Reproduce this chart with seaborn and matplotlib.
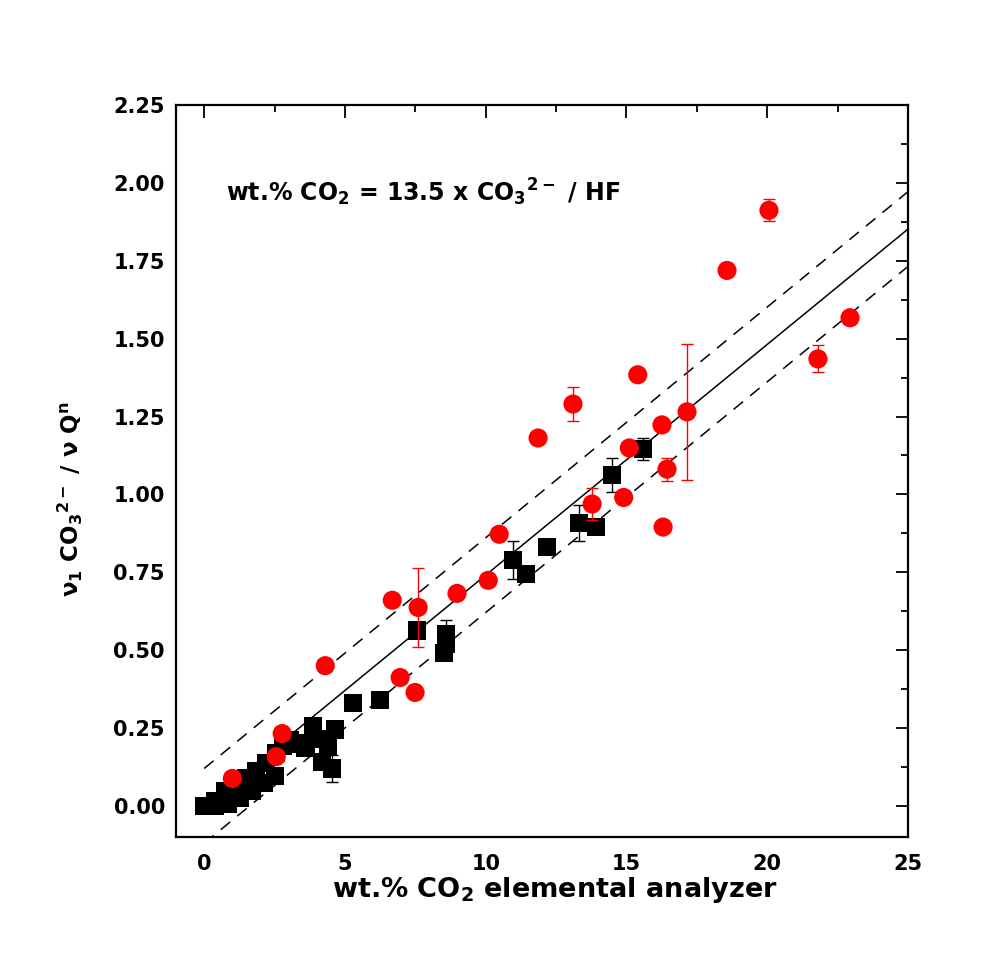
import matplotlib
matplotlib.use("Agg")
import matplotlib.pyplot as plt
import seaborn as sns
import numpy as np
import pandas as pd
from matplotlib.ticker import MultipleLocator

# ---- data ----
sq_x = [0.0, 0.39, 0.75, 1.14, 1.49, 1.85, 2.2, 2.56, 2.81,
        0.39, 0.85, 1.28, 1.7, 2.13, 2.52,
        3.05, 3.4, 3.6, 3.87, 4.0, 4.2, 4.4, 4.55, 4.65,
        5.3, 6.25, 7.56, 8.52, 8.59, 8.6,
        10.97, 11.43, 12.18, 13.32, 13.92, 14.49, 15.59]
sq_y = [0.0, 0.016, 0.048, 0.068, 0.09, 0.113, 0.138, 0.17, 0.193,
        0.0, 0.006, 0.026, 0.048, 0.074, 0.096,
        0.21, 0.2, 0.185, 0.255, 0.215, 0.14, 0.19, 0.12, 0.245,
        0.33, 0.34, 0.563, 0.49, 0.553, 0.52,
        0.789, 0.743, 0.83, 0.908, 0.895, 1.062, 1.146]
sq_err = [0, 0, 0, 0, 0, 0, 0, 0, 0,
          0, 0, 0, 0, 0, 0,
          0, 0, 0, 0, 0, 0, 0, 0.043, 0,
          0, 0, 0, 0, 0.045, 0,
          0.061, 0, 0, 0.058, 0, 0.055, 0.035]

ci_x = [1.0, 2.56, 2.77, 4.30, 6.68, 7.6, 6.96, 7.49, 8.98, 10.09, 10.48,
        11.86, 13.1, 13.78, 14.9, 15.1, 15.4, 16.26, 16.44, 16.3, 17.15,
        18.57, 20.06, 21.8, 22.94]
ci_y = [0.088, 0.158, 0.232, 0.45, 0.66, 0.637, 0.412, 0.364, 0.682, 0.724, 0.872,
        1.181, 1.29, 0.969, 0.99, 1.149, 1.384, 1.223, 1.081, 0.895, 1.265,
        1.719, 1.912, 1.435, 1.567]
ci_err = [0, 0, 0, 0, 0, 0.127, 0, 0, 0, 0, 0,
          0, 0.055, 0.05, 0, 0, 0, 0, 0.037, 0, 0.219,
          0, 0.035, 0.043, 0]

slope = 1 / 13.5
band = 0.12
line_x = [0, 25]

x_ticks = [0, 5, 10, 15, 20, 25]
y_ticks = [0.00, 0.25, 0.50, 0.75, 1.00, 1.25, 1.50, 1.75, 2.00, 2.25]

# ---- style ----
sns.set_style("white")
plt.rcParams['font.family'] = ['DejaVu Sans']
plt.rcParams['font.weight'] = 'bold'
plt.rcParams['mathtext.fontset'] = 'dejavusans'
plt.rcParams['mathtext.default'] = 'bf'
plt.rcParams['text.color'] = 'black'
plt.rcParams['axes.labelcolor'] = 'black'
plt.rcParams['xtick.color'] = 'black'
plt.rcParams['ytick.color'] = 'black'

fig = plt.figure(figsize=(9.9, 9.77), dpi=100)
ax = fig.add_axes([0.1778, 0.1433, 0.7394, 0.7492])

sq = pd.DataFrame({"x": sq_x, "y": sq_y, "err": sq_err})
ci = pd.DataFrame({"x": ci_x, "y": ci_y, "err": ci_err})

lx = np.array(line_x, dtype=float)
ax.plot(lx, slope * lx, color='black', lw=1.1, zorder=2)
ax.plot(lx, slope * lx + band, color='black', lw=1.1, ls=(0, (8, 6)), zorder=2)
ax.plot(lx, slope * lx - band, color='black', lw=1.1, ls=(0, (8, 6)), zorder=2)

sqe = sq[sq.err > 0]
ax.errorbar(sqe.x, sqe.y, yerr=sqe.err, fmt='none', ecolor='black',
            elinewidth=1, capsize=4.5, capthick=1, zorder=3)
sns.scatterplot(data=sq, x="x", y="y", marker='s', s=170, color='black',
                edgecolor='none', linewidth=0, ax=ax, zorder=4)

cie = ci[ci.err > 0]
ax.errorbar(cie.x, cie.y, yerr=cie.err, fmt='none', ecolor='red',
            elinewidth=1, capsize=4.5, capthick=1, zorder=5)
sns.scatterplot(data=ci, x="x", y="y", marker='o', s=190, color='red',
                edgecolor='none', linewidth=0, ax=ax, zorder=6)

ax.set_xlim(-1, 25)
ax.set_ylim(-0.1, 2.25)
ax.set_xticks(x_ticks)
ax.set_yticks(y_ticks)
ax.set_xticklabels([str(t) for t in x_ticks])
ax.set_yticklabels([f"{t:.2f}" for t in y_ticks])
ax.xaxis.set_minor_locator(MultipleLocator(2.5))
ax.yaxis.set_minor_locator(MultipleLocator(0.125))

ax.tick_params(which='both', direction='in', top=True, right=True,
               labelsize=15, width=1.3, colors='black')
ax.tick_params(axis='x', pad=12)
ax.tick_params(axis='y', pad=8)
ax.tick_params(which='major', length=9)
ax.tick_params(which='minor', length=5)
for s in ax.spines.values():
    s.set_linewidth(1.6)
    s.set_color('black')
for lab in ax.get_xticklabels() + ax.get_yticklabels():
    lab.set_fontweight('bold')

ax.set_xlabel('wt.% CO$_2$ elemental analyzer', fontsize=19.5, fontweight='bold',
              color='black')
ax.set_ylabel('ν$_1$ CO$_3$$^{2-}$ / ν Q$^n$', fontsize=16.5, fontweight='bold',
              color='black')
ax.xaxis.set_label_coords(0.518, -0.052)
ax.yaxis.set_label_coords(-0.125, 0.462)

ax.text(0.78, 1.97, 'wt.% CO$_2$ = 13.5 x CO$_3$$^{2-}$ / HF', fontsize=17,
        fontweight='bold', va='center', ha='left', color='black')

fig.savefig('out.png', dpi=100, facecolor='white')
